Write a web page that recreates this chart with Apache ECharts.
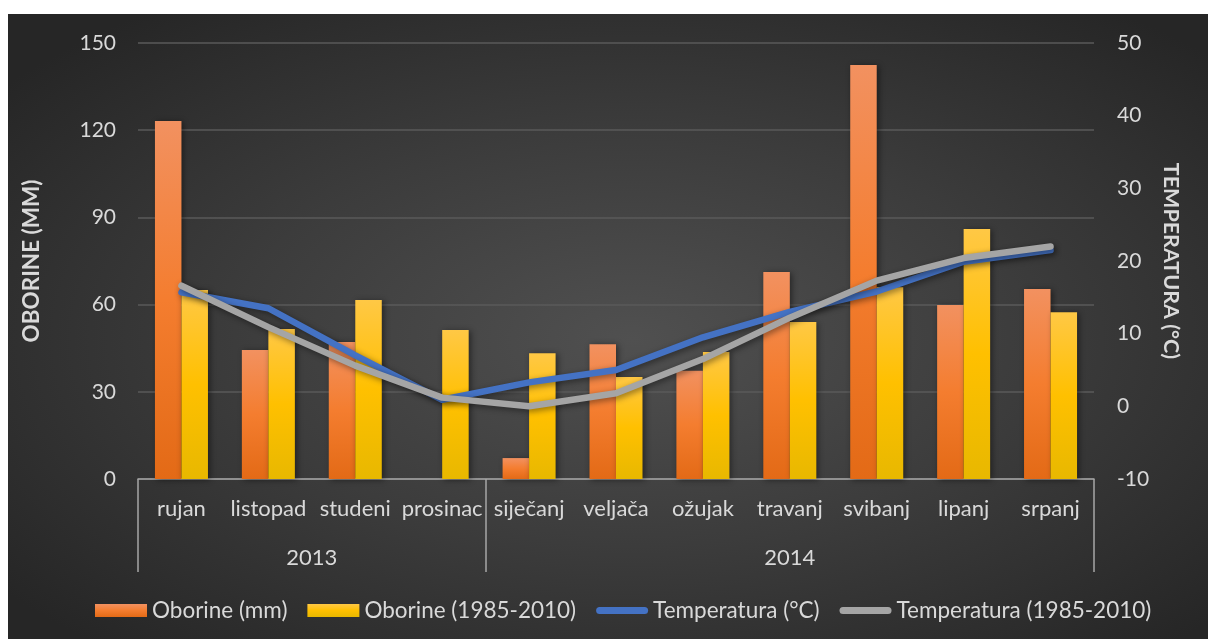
<!DOCTYPE html>
<html><head><meta charset="utf-8">
<script src="https://cdn.jsdelivr.net/npm/echarts@6/dist/echarts.min.js"></script>
<style>
html,body{margin:0;padding:0;background:#fff;width:1208px;height:639px;overflow:hidden}
#c{position:absolute;left:8px;top:14px;width:1200px;height:625px;
background:radial-gradient(ellipse farthest-corner at 52% 52%, #505050 0%, #3c3c3c 45%, #262626 90%);}
</style></head><body><div id="c"></div>
<script>
const months = ['rujan','listopad','studeni','prosinac','siječanj','veljača','ožujak','travanj','svibanj','lipanj','srpanj'];
const years = ['2013','2014'];
const yearMonthCounts = [4, 7];
const oborine = [123.2, 44.4, 47.1, 0, 7.2, 46.4, 37.2, 71.2, 142.4, 59.9, 65.4];
const oborineAvg = [65.0, 51.6, 61.6, 51.3, 43.3, 35.1, 43.7, 54.0, 66.0, 86.0, 57.4];
const temp = [15.7, 13.5, 7.0, 0.9, 3.3, 5.0, 9.5, 13.0, 15.8, 19.9, 21.5];
const tempAvg = [16.6, 10.9, 5.6, 1.2, 0.0, 1.8, 6.5, 12.2, 17.3, 20.4, 22.0];
const seriesNames = ['Oborine (mm)', 'Oborine (1985-2010)', 'Temperatura (°C)', 'Temperatura (1985-2010)'];
const leftAxisName = 'OBORINE (MM)';
const rightAxisName = 'TEMPERATURA (°C)';

// group boundaries and centres for the year level
const bounds = [0];
yearMonthCounts.forEach(n => bounds.push(bounds[bounds.length - 1] + n));
const centres = years.map((y, i) => (bounds[i] + bounds[i + 1]) / 2);

const FONT = 'Lato, "Open Sans", sans-serif';
const TXT = '#d9d9d9';
const AX = '#a6a6a6';
const LINE_ICON = 'path://M0,0 M52,13 M3.5,3 L48.5,3 A3.5,3.5 0 0 1 48.5,10 L3.5,10 A3.5,3.5 0 0 1 3.5,3 Z';

const chart = echarts.init(document.getElementById('c'), null, {renderer: 'canvas'});
const grad = (a, b, c) => new echarts.graphic.LinearGradient(0, 0, 0, 1, [
  {offset: 0, color: a}, {offset: 0.5, color: b}, {offset: 1, color: c}]);

chart.setOption({
  backgroundColor: 'transparent',
  textStyle: {fontFamily: FONT},
  animation: false,
  grid: {left: 130, right: 114, top: 29, bottom: 160, containLabel: false},
  legend: {
    bottom: 12, left: 82, itemWidth: 52, itemHeight: 13, itemGap: 20,
    textStyle: {color: TXT, fontSize: 22.5, fontFamily: FONT},
    data: [
      {name: seriesNames[0], icon: 'rect'},
      {name: seriesNames[1], icon: 'rect'},
      {name: seriesNames[2], icon: LINE_ICON},
      {name: seriesNames[3], icon: LINE_ICON}
    ]
  },
  xAxis: [
    {
      type: 'category', data: months, boundaryGap: true,
      axisLine: {show: true, onZero: false, lineStyle: {color: AX, width: 1.5}},
      axisTick: {show: false},
      axisLabel: {color: TXT, fontSize: 22, margin: 19, interval: 0, fontFamily: FONT},
      splitLine: {show: false}
    },
    {
      type: 'value', min: 0, max: months.length, position: 'bottom',
      axisLine: {show: false, onZero: false},
      axisTick: {show: true, inside: false, customValues: bounds, length: 93, lineStyle: {color: AX, width: 1.5}},
      axisLabel: {show: true, customValues: centres, color: TXT, fontSize: 22, margin: 68,
        fontFamily: FONT, formatter: v => years[centres.indexOf(v)] || ''},
      splitLine: {show: false}
    }
  ],
  yAxis: [
    {
      type: 'value', min: 0, max: 150, interval: 30,
      name: leftAxisName, nameLocation: 'middle', nameRotate: 90, nameGap: 95,
      nameTextStyle: {color: TXT, fontSize: 22.5, fontWeight: 'bold', fontFamily: FONT},
      axisLine: {show: false}, axisTick: {show: false},
      axisLabel: {color: TXT, fontSize: 21, margin: 22, fontFamily: FONT},
      splitLine: {show: true, lineStyle: {color: '#5a5a5a', width: 1.5}}
    },
    {
      type: 'value', min: -10, max: 50, interval: 10, position: 'right',
      name: rightAxisName, nameLocation: 'middle', nameRotate: -90, nameGap: 59,
      nameTextStyle: {color: TXT, fontSize: 21.5, fontWeight: 'bold', fontFamily: FONT},
      axisLine: {show: false}, axisTick: {show: false},
      axisLabel: {color: TXT, fontSize: 21, margin: 23, fontFamily: FONT},
      splitLine: {show: false}
    }
  ],
  series: [
    {
      name: seriesNames[0], type: 'bar', data: oborine, barGap: '0%', barCategoryGap: '39%',
      itemStyle: {color: grad('#f29160', '#f47d2f', '#e36a16'),
        shadowBlur: 6, shadowColor: 'rgba(0,0,0,0.45)', shadowOffsetX: 2, shadowOffsetY: 1},
      z: 2
    },
    {
      name: seriesNames[1], type: 'bar', data: oborineAvg, barGap: '0%', barCategoryGap: '39%',
      itemStyle: {color: grad('#ffc845', '#ffc000', '#e8b800'),
        shadowBlur: 6, shadowColor: 'rgba(0,0,0,0.45)', shadowOffsetX: 2, shadowOffsetY: 1},
      z: 2
    },
    {
      name: seriesNames[2], type: 'line', yAxisIndex: 1, data: temp, symbol: 'none',
      lineStyle: {color: '#4472c4', width: 6.5, cap: 'round', join: 'round',
        shadowBlur: 6, shadowColor: 'rgba(0,0,0,0.45)', shadowOffsetX: 2, shadowOffsetY: 2},
      itemStyle: {color: '#4472c4'}, z: 3
    },
    {
      name: seriesNames[3], type: 'line', yAxisIndex: 1, data: tempAvg, symbol: 'none',
      lineStyle: {color: '#a5a5a5', width: 6.5, cap: 'round', join: 'round',
        shadowBlur: 6, shadowColor: 'rgba(0,0,0,0.45)', shadowOffsetX: 2, shadowOffsetY: 2},
      itemStyle: {color: '#a5a5a5'}, z: 4
    }
  ]
});
</script></body></html>
